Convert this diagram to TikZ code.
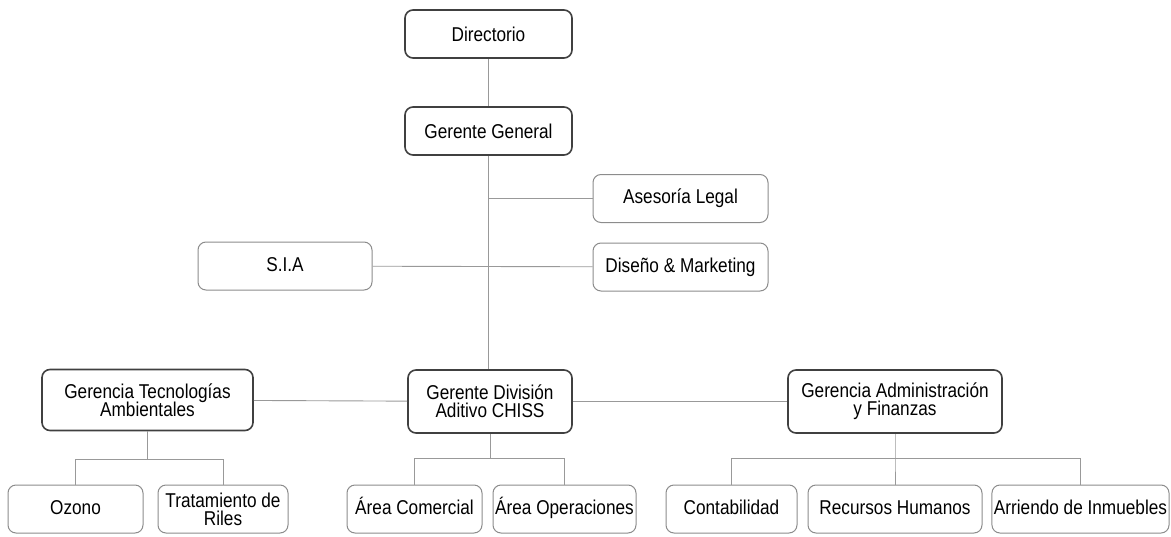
\documentclass[tikz,border=0pt]{standalone}
\usepackage{fontspec}
\setmainfont{Liberation Sans}[FakeStretch=0.86]
\usetikzlibrary{positioning}

\begin{document}
\begin{tikzpicture}[x=1pt,y=-1pt]
        \tikzstyle{every node}+=[inner sep=2pt, align=center, font=\fontsize{20}{21}\selectfont]
        \tikzstyle{jefe}=[draw=black!75, line width=1.6pt, rounded corners=8pt, minimum height=48pt]
        \tikzstyle{staff}=[draw=black!45, line width=1pt, rounded corners=8pt, minimum height=48pt]
        \tikzstyle{unidad}=[staff, text height=14pt, text depth=4pt]
        \tikzstyle{linea}=[draw=black!40, line width=0.9pt]
        \useasboundingbox (0,0) rectangle (1171,536);
        % mando superior
        \node [jefe, minimum width=167pt] (dir) at (488.5,34) {Directorio};
        \node [jefe, minimum width=167pt] (gg) at (488.5,131) {Gerente General};
        \node [unidad, minimum width=175pt] (legal) at (680.5,198.5) {Asesoría Legal};
        \node [unidad, minimum width=174pt] (sia) at (285,266) {S.I.A};
        \node [unidad, minimum width=175pt] (mkt) at (680.5,267) {Diseño \& Marketing};
        % gerencias
        \node [jefe, minimum width=211pt, minimum height=61pt] (gta) at (147.5,400) {Gerencia Tecnologías\\[-3pt]Ambientales};
        \node [jefe, minimum width=164pt, minimum height=63pt] (gda) at (490,401.5) {Gerente División\\[-3pt]Aditivo CHISS};
        \node [jefe, minimum width=214pt, minimum height=63pt] (gaf) at (895,401.5) {Gerencia Administración\\[-3pt]y Finanzas};
        % unidades
        \node [unidad, minimum width=135pt] (ozo) at (75.5,509) {Ozono};
        \node [staff, minimum width=130pt] (ril) at (223,509) {Tratamiento de\\[-3pt]Riles};
        \node [unidad, minimum width=135pt] (com) at (414.5,509) {Área Comercial};
        \node [unidad, minimum width=143pt] (ope) at (564.5,509) {Área Operaciones};
        \node [unidad, minimum width=131pt] (cont) at (731.5,509) {Contabilidad};
        \node [unidad, minimum width=174pt] (rrhh) at (895,509) {Recursos Humanos};
        \node [unidad, minimum width=175pt] (arr) at (1080.5,509) {Arriendo de Inmuebles};
        % conectores
        \draw [linea] (dir) -- (gg);
        \draw [linea] (gg.south) -- (gg.south |- gda.north);
        \draw [linea] (gg.south |- legal.west) -- (legal.west);
        \draw [linea] (sia) -- (mkt);
        \draw [linea] (gta) -- (gda);
        \draw [linea] (gda) -- (gaf);
        \draw [linea] (gta.south) -- ++(0,28) coordinate (jgta);
        \draw [linea] (ozo.north) |- (jgta) -| (ril.north);
        \draw [linea] (gda.south) -- ++(0,25) coordinate (jgda);
        \draw [linea] (com.north) |- (jgda) -| (ope.north);
        \draw [linea] (gaf.south) -- ++(0,25) coordinate (jgaf) -- (rrhh.north);
        \draw [linea] (cont.north) |- (jgaf) -| (arr.north);
        \end{tikzpicture}
\end{document}
